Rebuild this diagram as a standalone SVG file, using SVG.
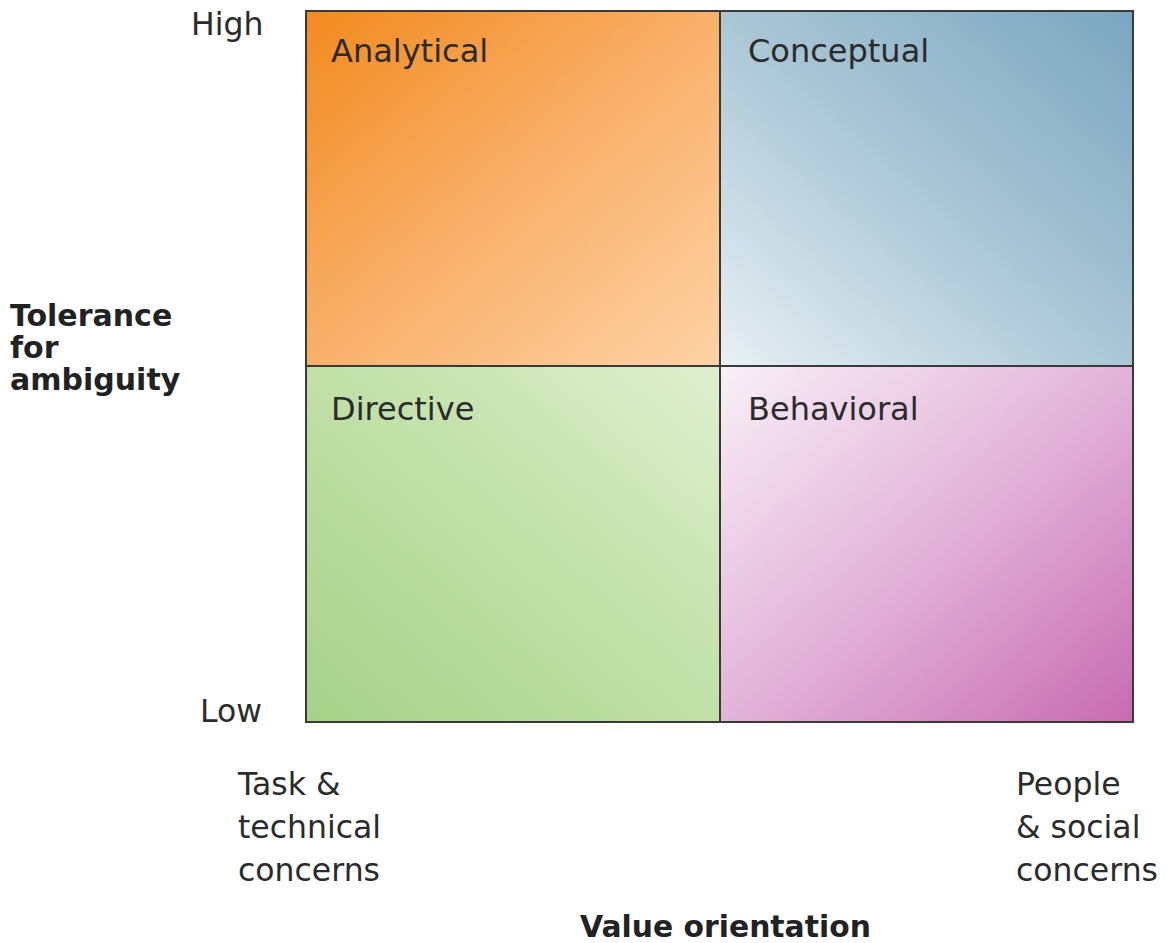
<svg xmlns="http://www.w3.org/2000/svg" width="1172" height="943" viewBox="0 0 1172 943">
<style>
.q{stroke:#3a3a3a;stroke-width:2}
.lbl{font-family:"DejaVu Sans",sans-serif;font-size:32px;fill:#2b2b2b}
.ax{font-family:"DejaVu Sans",sans-serif;font-size:31.5px;fill:#2b2b2b}
.b{font-family:"DejaVu Sans",sans-serif;font-weight:bold;fill:#222}
</style>
<defs>
<linearGradient id="gA" x1="0" y1="0" x2="1" y2="1"><stop offset="0" stop-color="#f28a1e"/><stop offset="0.5" stop-color="#f8b06a"/><stop offset="1" stop-color="#fdd3a6"/></linearGradient>
<linearGradient id="gC" x1="0" y1="1" x2="1" y2="0"><stop offset="0" stop-color="#e8f0f4"/><stop offset="0.5" stop-color="#aac6d5"/><stop offset="1" stop-color="#7aa6bf"/></linearGradient>
<linearGradient id="gD" x1="0" y1="1" x2="1" y2="0"><stop offset="0" stop-color="#a6d188"/><stop offset="0.6" stop-color="#c6e3ae"/><stop offset="1" stop-color="#dfefcf"/></linearGradient>
<linearGradient id="gB" x1="0" y1="0" x2="1" y2="1"><stop offset="0" stop-color="#f8f0f7"/><stop offset="0.5" stop-color="#e2b4d8"/><stop offset="1" stop-color="#c76bb0"/></linearGradient>
</defs>
<g id="analytical"><rect class="q" x="306" y="11" width="414" height="355" fill="url(#gA)"/><text class="lbl" x="331" y="62">Analytical</text></g>
<g id="conceptual"><rect class="q" x="720" y="11" width="413" height="355" fill="url(#gC)"/><text class="lbl" x="748" y="62">Conceptual</text></g>
<g id="directive"><rect class="q" x="306" y="366" width="414" height="356" fill="url(#gD)"/><text class="lbl" x="331" y="420">Directive</text></g>
<g id="behavioral"><rect class="q" x="720" y="366" width="413" height="356" fill="url(#gB)"/><text class="lbl" x="748" y="420">Behavioral</text></g>
<g id="axes">
<text class="ax" x="191" y="35">High</text>
<text class="ax" x="200" y="722">Low</text>
<text class="ax" x="238" y="795">Task &amp;</text>
<text class="ax" x="238" y="838">technical</text>
<text class="ax" x="238" y="881">concerns</text>
<text class="ax" x="1016" y="795">People</text>
<text class="ax" x="1016" y="838">&amp; social</text>
<text class="ax" x="1016" y="881">concerns</text>
<text class="b" x="10" y="326" font-size="30">Tolerance</text>
<text class="b" x="10" y="358" font-size="30">for</text>
<text class="b" x="10" y="390" font-size="30">ambiguity</text>
<text class="b" x="580" y="937" font-size="29.8">Value orientation</text>
</g>
<g id="connectors"/>
</svg>
